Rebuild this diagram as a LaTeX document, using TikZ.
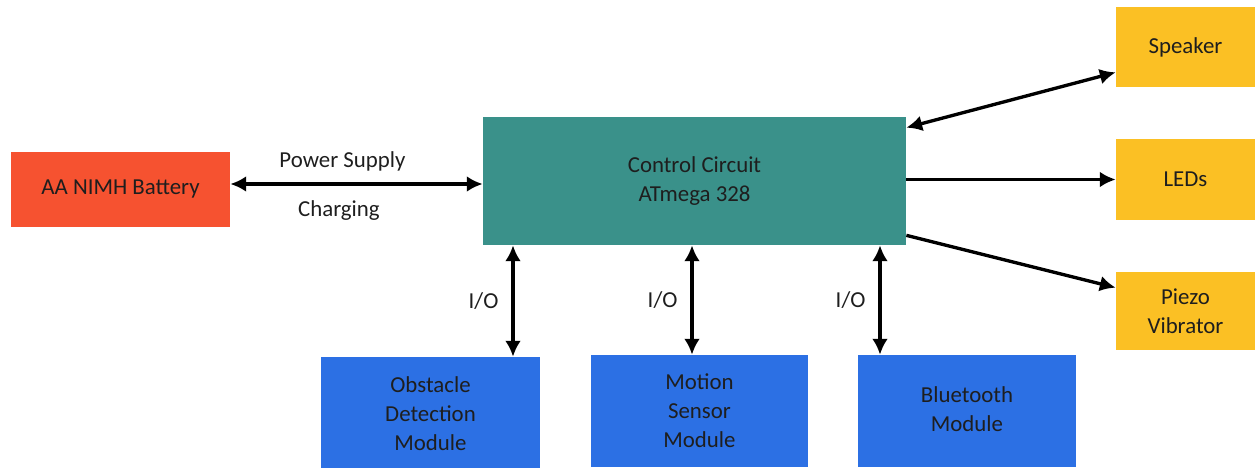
\documentclass[tikz,border=0pt]{standalone}
\usepackage{fontspec}
\setmainfont{Carlito}
\usetikzlibrary{arrows.meta}
\definecolor{battred}{RGB}{246,82,48}
\definecolor{ctrlteal}{RGB}{58,145,138}
\definecolor{outyellow}{RGB}{251,192,36}
\definecolor{modblue}{RGB}{44,112,228}
\definecolor{txt}{RGB}{30,30,30}
\tikzset{
  blk/.style={rectangle, inner sep=0pt, align=center, text=txt, font=\fontsize{13}{16.5}\selectfont},
  lnk/.style={line width=1.9pt, {Latex[length=9pt,width=9pt]}-{Latex[length=9pt,width=9pt]}},
  lnkone/.style={line width=1.9pt, -{Latex[length=9pt,width=9pt]}},
  lbl/.style={text=txt, font=\fontsize{13}{16.5}\selectfont}
}
\begin{document}
\begin{tikzpicture}
\useasboundingbox (0,0) rectangle (25.1,9.34);
% blocks
\node[blk, fill=battred, minimum width=4.38cm, minimum height=1.5cm] (batt) at (2.41,5.55) {AA NIMH Battery};
\node[blk, fill=ctrlteal, minimum width=8.46cm, minimum height=2.56cm] (ctrl) at (13.89,5.72) {Control Circuit\\ATmega 328};
\node[blk, fill=outyellow, minimum width=2.78cm, minimum height=1.6cm] (spk) at (23.71,8.40) {Speaker};
\node[blk, fill=outyellow, minimum width=2.78cm, minimum height=1.62cm] (leds) at (23.71,5.75) {LEDs};
\node[blk, fill=outyellow, minimum width=2.78cm, minimum height=1.56cm] (piezo) at (23.71,3.12) {Piezo\\Vibrator};
\node[blk, fill=modblue, minimum width=4.38cm, minimum height=2.28cm] (obst) at (8.61,1.06) {Obstacle\\Detection\\Module};
\node[blk, fill=modblue, minimum width=4.34cm, minimum height=2.24cm] (motion) at (13.99,1.12) {Motion\\Sensor\\Module};
\node[blk, fill=modblue, minimum width=4.36cm, minimum height=2.24cm] (bt) at (19.34,1.12) {\raisebox{2pt}{Bluetooth}\\\raisebox{2pt}{Module}};
% links
\draw[lnk] (batt.east |- 0,5.66) -- (ctrl.west |- 0,5.66)
  node[lbl, midway, above=3pt, xshift=-8pt] (pwr) {Power Supply}
  node[lbl, midway, below=5pt, xshift=-10pt] (chg) {Charging};
\draw[lnk] ([yshift=-0.22cm]ctrl.north east) -- ([yshift=0.30cm]spk.south west);
\draw[lnkone] (ctrl.east |- leds.west) -- (leds.west);
\draw[lnkone] ([yshift=0.20cm]ctrl.south east) -- ([yshift=-0.32cm]piezo.north west);
\draw[lnk] (ctrl.south -| 10.26,0) -- (obst.north -| 10.26,0) node[lbl, midway, left=4pt] (io1) {I/O};
\draw[lnk] (ctrl.south -| 13.84,0) -- (motion.north -| 13.84,0) node[lbl, midway, left=4pt] (io2) {I/O};
\draw[lnk] (ctrl.south -| 17.60,0) -- (bt.north -| 17.60,0) node[lbl, midway, left=4pt] (io3) {I/O};
\end{tikzpicture}
\end{document}
